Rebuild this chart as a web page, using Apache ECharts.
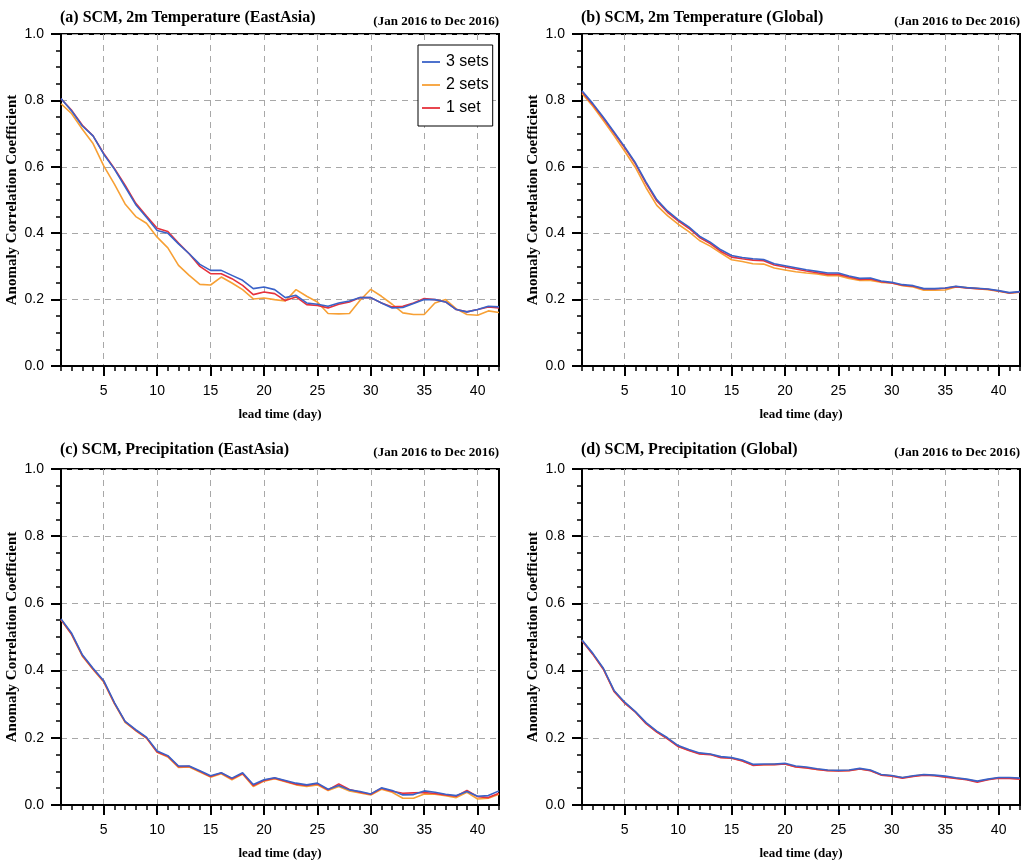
<!DOCTYPE html>
<html>
<head>
<meta charset="utf-8">
<script src="https://cdn.jsdelivr.net/npm/echarts@6/dist/echarts.min.js"></script>
<style>
  html, body { margin: 0; padding: 0; background: #fff; }
  #chart { width: 1026px; height: 864px; }
</style>
</head>
<body>
<div id="chart"></div>
<script>
// lead time (day)
const days = [1,2,3,4,5,6,7,8,9,10,11,12,13,14,15,16,17,18,19,20,21,22,23,24,25,26,27,28,29,30,31,32,33,34,35,36,37,38,39,40,41,42]
const yTicks = [0, 0.2, 0.4, 0.6, 0.8, 1.0]
const setNames = ['3 sets', '2 sets', '1 set']

// (a) 2m Temperature, EastAsia
const tEastAsia3 = [0.806,0.768,0.723,0.693,0.638,0.593,0.540,0.486,0.448,0.408,0.400,0.368,0.338,0.306,0.288,0.288,0.273,0.258,0.233,0.238,0.230,0.206,0.213,0.190,0.186,0.180,0.190,0.196,0.206,0.206,0.190,0.175,0.176,0.188,0.200,0.200,0.193,0.170,0.163,0.170,0.180,0.178]
const tEastAsia2 = [0.790,0.760,0.713,0.670,0.603,0.548,0.488,0.450,0.430,0.388,0.356,0.303,0.273,0.246,0.244,0.268,0.250,0.230,0.202,0.205,0.200,0.196,0.230,0.210,0.193,0.158,0.157,0.158,0.198,0.231,0.210,0.186,0.160,0.155,0.155,0.190,0.200,0.172,0.155,0.153,0.166,0.161]
const tEastAsia1 = [0.805,0.770,0.725,0.693,0.640,0.595,0.545,0.490,0.452,0.415,0.405,0.370,0.338,0.300,0.278,0.278,0.263,0.243,0.215,0.223,0.218,0.197,0.208,0.185,0.182,0.175,0.186,0.193,0.206,0.206,0.190,0.178,0.180,0.190,0.203,0.200,0.193,0.170,0.163,0.170,0.178,0.175]

// (b) 2m Temperature, Global
const tGlobal3 = [0.829,0.791,0.749,0.705,0.660,0.612,0.554,0.501,0.467,0.441,0.419,0.391,0.373,0.350,0.333,0.327,0.323,0.321,0.308,0.302,0.296,0.290,0.285,0.280,0.280,0.271,0.264,0.265,0.256,0.252,0.245,0.242,0.233,0.233,0.235,0.240,0.236,0.234,0.232,0.227,0.221,0.224]
const tGlobal2 = [0.821,0.783,0.739,0.694,0.647,0.598,0.537,0.484,0.453,0.427,0.405,0.378,0.361,0.340,0.320,0.315,0.308,0.307,0.295,0.289,0.284,0.280,0.277,0.272,0.272,0.264,0.258,0.258,0.252,0.250,0.242,0.238,0.228,0.228,0.229,0.238,0.236,0.233,0.230,0.225,0.219,0.222]
const tGlobal1 = [0.826,0.788,0.746,0.702,0.657,0.609,0.550,0.497,0.463,0.437,0.415,0.387,0.369,0.345,0.328,0.323,0.319,0.317,0.304,0.298,0.292,0.286,0.281,0.276,0.276,0.268,0.261,0.262,0.254,0.250,0.243,0.240,0.232,0.232,0.234,0.239,0.235,0.233,0.231,0.226,0.220,0.223]

// (c) Precipitation, EastAsia
const pEastAsia3 = [0.554,0.511,0.447,0.407,0.370,0.305,0.249,0.224,0.202,0.161,0.147,0.116,0.116,0.102,0.087,0.096,0.080,0.096,0.061,0.075,0.081,0.073,0.065,0.060,0.065,0.047,0.058,0.045,0.040,0.033,0.051,0.043,0.030,0.031,0.042,0.038,0.032,0.028,0.040,0.026,0.028,0.042]
const pEastAsia2 = [0.551,0.507,0.443,0.403,0.366,0.302,0.246,0.221,0.199,0.157,0.143,0.112,0.113,0.098,0.083,0.093,0.075,0.092,0.055,0.071,0.078,0.069,0.060,0.055,0.060,0.043,0.055,0.042,0.036,0.030,0.047,0.038,0.020,0.020,0.033,0.032,0.028,0.022,0.038,0.018,0.020,0.032]
const pEastAsia1 = [0.552,0.508,0.445,0.405,0.368,0.303,0.248,0.222,0.200,0.158,0.145,0.114,0.115,0.100,0.085,0.095,0.078,0.094,0.058,0.073,0.080,0.071,0.062,0.058,0.063,0.045,0.063,0.046,0.038,0.032,0.050,0.041,0.035,0.036,0.037,0.034,0.030,0.026,0.043,0.025,0.022,0.035]

// (d) Precipitation, Global
const pGlobal3 = [0.491,0.452,0.407,0.341,0.306,0.278,0.245,0.220,0.200,0.177,0.165,0.155,0.152,0.144,0.141,0.134,0.121,0.122,0.122,0.124,0.116,0.113,0.108,0.104,0.103,0.104,0.109,0.104,0.091,0.088,0.082,0.087,0.091,0.089,0.086,0.081,0.077,0.071,0.077,0.082,0.082,0.080]
const pGlobal2 = [0.490,0.450,0.405,0.339,0.304,0.277,0.243,0.218,0.198,0.175,0.163,0.153,0.151,0.142,0.140,0.132,0.119,0.120,0.121,0.122,0.114,0.111,0.106,0.103,0.102,0.103,0.107,0.103,0.090,0.087,0.081,0.086,0.090,0.088,0.084,0.080,0.076,0.070,0.076,0.081,0.080,0.079]
const pGlobal1 = [0.489,0.449,0.404,0.338,0.303,0.276,0.242,0.217,0.197,0.174,0.162,0.152,0.150,0.141,0.139,0.131,0.118,0.120,0.120,0.122,0.113,0.110,0.106,0.102,0.101,0.102,0.107,0.102,0.089,0.086,0.080,0.085,0.089,0.087,0.083,0.079,0.075,0.068,0.075,0.080,0.079,0.077]

const panelTitles = [
  '(a) SCM, 2m Temperature (EastAsia)',
  '(b) SCM, 2m Temperature (Global)',
  '(c) SCM, Precipitation (EastAsia)',
  '(d) SCM, Precipitation (Global)'
]
const periodText = '(Jan 2016 to Dec 2016)'
const panelData = [
  [tEastAsia3, tEastAsia2, tEastAsia1],
  [tGlobal3, tGlobal2, tGlobal1],
  [pEastAsia3, pEastAsia2, pEastAsia1],
  [pGlobal3, pGlobal2, pGlobal1]
]

const colors = ['#3a62c8', '#f7a035', '#e6323c']
const serif = 'Liberation Serif'
const sans = 'Liberation Sans'

// grid boxes in pixels, title tops per row
const boxes = [
  { left: 61, top: 34, width: 438, height: 332 },
  { left: 582, top: 34, width: 438, height: 332 },
  { left: 61, top: 469, width: 438, height: 336 },
  { left: 582, top: 469, width: 438, height: 336 }
]
const titleTops = [10, 10, 442, 442]
const periodTops = [15, 15, 446, 446]

const isMajor = (idx, val) => Number(val) % 5 === 0
const dashed = { color: '#a8a8a8', width: 1, type: [6, 5] }
// thin horizontal bar as legend mark; the two moveTo points keep the box height
const legendMark = 'path://M0,0 L0,0 M0,9 L20,9 L20,11 L0,11 Z M0,20 L0,20'

const grid = [], xAxis = [], yAxis = [], series = [], title = []

boxes.forEach((b, i) => {
  grid.push({ ...b, show: true, borderColor: '#000', borderWidth: 2, backgroundColor: '#fff', z: 0 })

  // main x axis: labels, long ticks, dashed grid lines
  xAxis.push({
    type: 'category',
    gridIndex: i,
    data: days,
    boundaryGap: false,
    name: 'lead time (day)',
    nameLocation: 'middle',
    nameGap: 42,
    nameTextStyle: { fontFamily: serif, fontWeight: 'bold', fontSize: 13, color: '#000' },
    axisLine: { lineStyle: { color: '#000', width: 2 } },
    axisTick: { interval: isMajor, length: 10, lineStyle: { color: '#000', width: 2 } },
    axisLabel: { interval: isMajor, margin: 18, fontFamily: sans, fontSize: 14, color: '#000' },
    splitLine: { show: true, interval: isMajor, lineStyle: dashed }
  })
  // second x axis on the same grid: one small tick per day
  xAxis.push({
    type: 'category',
    gridIndex: i,
    data: days,
    boundaryGap: false,
    position: 'bottom',
    axisLine: { show: false },
    axisTick: { interval: 0, length: 5, lineStyle: { color: '#000', width: 1.5 } },
    axisLabel: { show: false },
    splitLine: { show: false }
  })

  yAxis.push({
    type: 'value',
    gridIndex: i,
    min: yTicks[0],
    max: yTicks[yTicks.length - 1],
    interval: 0.2,
    name: 'Anomaly Correlation Coefficient',
    nameLocation: 'middle',
    nameGap: 41,
    nameTextStyle: { fontFamily: serif, fontWeight: 'bold', fontSize: 15, color: '#000' },
    axisLine: { show: true, lineStyle: { color: '#000', width: 2 } },
    axisTick: { show: true, length: 10, lineStyle: { color: '#000', width: 2 } },
    minorTick: { show: true, splitNumber: 4, length: 5, lineStyle: { color: '#000', width: 1.5 } },
    axisLabel: { margin: 17, fontFamily: sans, fontSize: 14, color: '#000', formatter: v => v.toFixed(1) },
    splitLine: { show: true, lineStyle: dashed }
  })

  panelData[i].forEach((vals, k) => {
    series.push({
      name: setNames[k],
      type: 'line',
      xAxisIndex: i * 2,
      yAxisIndex: i,
      data: vals,
      symbol: 'none',
      z: [5, 3, 4][k],
      lineStyle: { color: colors[k], width: 1.6 },
      itemStyle: { color: colors[k] }
    })
  })

  title.push({
    text: panelTitles[i],
    left: b.left - 1,
    top: titleTops[i],
    padding: 0,
    textStyle: { fontFamily: serif, fontWeight: 'bold', fontSize: 16, color: '#000' }
  })
  title.push({
    text: periodText,
    right: 1026 - (b.left + b.width),
    top: periodTops[i],
    padding: 0,
    textStyle: { fontFamily: serif, fontWeight: 'bold', fontSize: 13, color: '#000' }
  })
})

const chart = echarts.init(document.getElementById('chart'))
chart.setOption({
  backgroundColor: '#fff',
  animation: false,
  title,
  legend: {
    data: setNames.map(name => ({ name, icon: legendMark })),
    orient: 'vertical',
    left: 418,
    top: 45,
    padding: [8, 4, 9, 4],
    itemGap: 5,
    itemWidth: 20,
    itemHeight: 18,
    backgroundColor: '#fff',
    borderColor: '#000',
    borderWidth: 1,
    textStyle: { fontFamily: sans, fontSize: 16, color: '#000' }
  },
  grid,
  xAxis,
  yAxis,
  series
})
</script>
</body>
</html>
